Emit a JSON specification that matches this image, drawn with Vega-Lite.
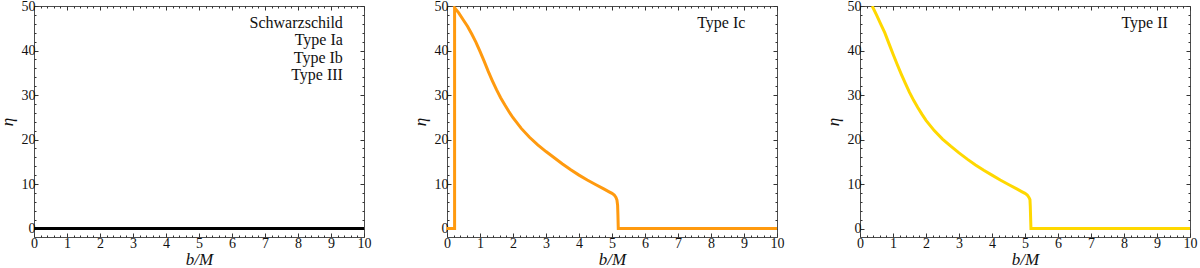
{
  "$schema": "https://vega.github.io/schema/vega-lite/v6.json",
  "padding": {"left": -3, "top": -2, "right": 0, "bottom": 0},
  "background": "white",
  "datasets": {
    "schw": [{"b": 0, "eta": 0, "i": 0}, {"b": 10, "eta": 0, "i": 1}],
    "ic": [
      {"b": 0, "eta": 0, "i": 0}, {"b": 0.23, "eta": 0, "i": 1}, {"b": 0.23, "eta": 49.6, "i": 2},
      {"b": 0.35, "eta": 48.5, "i": 3}, {"b": 0.5, "eta": 46.8, "i": 4}, {"b": 0.625, "eta": 45.4, "i": 5},
      {"b": 0.75, "eta": 43.7, "i": 6}, {"b": 0.875, "eta": 41.9, "i": 7}, {"b": 1.0, "eta": 39.8, "i": 8},
      {"b": 1.125, "eta": 37.6, "i": 9}, {"b": 1.25, "eta": 35.3, "i": 10}, {"b": 1.375, "eta": 33.2, "i": 11},
      {"b": 1.5, "eta": 31.2, "i": 12}, {"b": 1.625, "eta": 29.4, "i": 13}, {"b": 1.75, "eta": 27.8, "i": 14},
      {"b": 1.875, "eta": 26.3, "i": 15}, {"b": 2.0, "eta": 24.9, "i": 16}, {"b": 2.25, "eta": 22.5, "i": 17},
      {"b": 2.5, "eta": 20.5, "i": 18}, {"b": 2.75, "eta": 18.8, "i": 19}, {"b": 3.0, "eta": 17.3, "i": 20},
      {"b": 3.25, "eta": 15.9, "i": 21}, {"b": 3.5, "eta": 14.5, "i": 22}, {"b": 3.75, "eta": 13.2, "i": 23},
      {"b": 4.0, "eta": 12.0, "i": 24}, {"b": 4.25, "eta": 10.9, "i": 25}, {"b": 4.5, "eta": 9.9, "i": 26},
      {"b": 4.75, "eta": 8.9, "i": 27}, {"b": 4.9, "eta": 8.3, "i": 28}, {"b": 5.0, "eta": 7.9, "i": 29},
      {"b": 5.07, "eta": 7.5, "i": 30}, {"b": 5.12, "eta": 7.0, "i": 31}, {"b": 5.15, "eta": 6.4, "i": 32},
      {"b": 5.17, "eta": 5.2, "i": 33}, {"b": 5.18, "eta": 3.0, "i": 34}, {"b": 5.19, "eta": 0, "i": 35},
      {"b": 10, "eta": 0, "i": 36}
    ],
    "ii": [
      {"b": 0.37, "eta": 50, "i": 0}, {"b": 0.5, "eta": 48.0, "i": 1}, {"b": 0.625, "eta": 46.0, "i": 2},
      {"b": 0.75, "eta": 44.0, "i": 3}, {"b": 0.875, "eta": 41.6, "i": 4}, {"b": 1.0, "eta": 39.2, "i": 5},
      {"b": 1.125, "eta": 36.9, "i": 6}, {"b": 1.25, "eta": 34.7, "i": 7}, {"b": 1.375, "eta": 32.6, "i": 8},
      {"b": 1.5, "eta": 30.6, "i": 9}, {"b": 1.625, "eta": 28.8, "i": 10}, {"b": 1.75, "eta": 27.2, "i": 11},
      {"b": 1.875, "eta": 25.7, "i": 12}, {"b": 2.0, "eta": 24.3, "i": 13}, {"b": 2.25, "eta": 22.0, "i": 14},
      {"b": 2.5, "eta": 20.1, "i": 15}, {"b": 2.75, "eta": 18.5, "i": 16}, {"b": 3.0, "eta": 17.0, "i": 17},
      {"b": 3.25, "eta": 15.6, "i": 18}, {"b": 3.5, "eta": 14.3, "i": 19}, {"b": 3.75, "eta": 13.1, "i": 20},
      {"b": 4.0, "eta": 12.0, "i": 21}, {"b": 4.25, "eta": 10.9, "i": 22}, {"b": 4.5, "eta": 9.9, "i": 23},
      {"b": 4.75, "eta": 8.9, "i": 24}, {"b": 4.9, "eta": 8.3, "i": 25}, {"b": 5.0, "eta": 7.9, "i": 26},
      {"b": 5.07, "eta": 7.5, "i": 27}, {"b": 5.12, "eta": 7.0, "i": 28}, {"b": 5.15, "eta": 6.5, "i": 29},
      {"b": 5.16, "eta": 5.0, "i": 30}, {"b": 5.18, "eta": 0, "i": 31}, {"b": 10, "eta": 0, "i": 32}
    ]
  },
  "spacing": 83,
  "bounds": "flush",
  "hconcat": [
    {
      "width": 330, "height": 231,
      "resolve": {"axis": {"x": "independent", "y": "independent"}},
      "layer": [
        {
          "data": {"name": "schw"},
          "mark": {"type": "line", "color": "black", "strokeWidth": 3, "clip": true},
          "encoding": {
            "x": {"field": "b", "type": "quantitative", "scale": {"domain": [0, 10], "nice": false, "zero": false},
              "axis": {"orient": "bottom", "title": "b/M", "values": [0,0.2,0.4,0.6,0.8,1,1.2,1.4,1.6,1.8,2,2.2,2.4,2.6,2.8,3,3.2,3.4,3.6,3.8,4,4.2,4.4,4.6,4.8,5,5.2,5.4,5.6,5.8,6,6.2,6.4,6.6,6.8,7,7.2,7.4,7.6,7.8,8,8.2,8.4,8.6,8.8,9,9.2,9.4,9.6,9.8,10],
                "labelExpr": "datum.value % 1 === 0 ? format(datum.value, 'd') : ''",
                "tickSize": {"condition": {"test": "datum.value % 1 === 0", "value": -4}, "value": -2},
                "labelPadding": 3, "titlePadding": -1}},
            "y": {"field": "eta", "type": "quantitative", "scale": {"domain": [-1.9, 50], "nice": false, "zero": false},
              "axis": {"orient": "left", "title": "η", "values": [0,2,4,6,8,10,12,14,16,18,20,22,24,26,28,30,32,34,36,38,40,42,44,46,48,50],
                "labelExpr": "datum.value % 10 === 0 ? format(datum.value, 'd') : ''",
                "tickSize": {"condition": {"test": "datum.value % 10 === 0", "value": -4}, "value": -2},
                "labelPadding": 3, "titlePadding": 5}},
            "order": {"field": "i", "type": "quantitative"}
          }
        },
        {
          "data": {"name": "schw"},
          "mark": {"type": "point", "opacity": 0},
          "encoding": {
            "x": {"field": "b", "type": "quantitative",
              "axis": {"orient": "top", "title": null, "labels": false, "values": [0,0.2,0.4,0.6,0.8,1,1.2,1.4,1.6,1.8,2,2.2,2.4,2.6,2.8,3,3.2,3.4,3.6,3.8,4,4.2,4.4,4.6,4.8,5,5.2,5.4,5.6,5.8,6,6.2,6.4,6.6,6.8,7,7.2,7.4,7.6,7.8,8,8.2,8.4,8.6,8.8,9,9.2,9.4,9.6,9.8,10],
                "tickSize": {"condition": {"test": "datum.value % 1 === 0", "value": -4}, "value": -2}}},
            "y": {"field": "eta", "type": "quantitative",
              "axis": {"orient": "right", "title": null, "labels": false, "values": [0,2,4,6,8,10,12,14,16,18,20,22,24,26,28,30,32,34,36,38,40,42,44,46,48,50],
                "tickSize": {"condition": {"test": "datum.value % 10 === 0", "value": -4}, "value": -2}}}
          }
        },
        {
          "data": {"values": [{}]},
          "mark": {"type": "text", "align": "right", "baseline": "middle", "lineHeight": 17.5, "font": "Liberation Serif", "fontSize": 16, "color": "#111"},
          "encoding": {
            "x": {"datum": 9.36, "type": "quantitative", "axis": null},
            "y": {"datum": 46.25, "type": "quantitative", "axis": null},
            "text": {"value": ["Schwarzschild", "Type Ia", "Type Ib", "Type III"]}
          }
        }
      ]
    },
    {
      "width": 330, "height": 231,
      "resolve": {"axis": {"x": "independent", "y": "independent"}},
      "layer": [
        {
          "data": {"name": "ic"},
          "mark": {"type": "line", "color": "#FF9A0F", "strokeWidth": 3, "clip": true},
          "encoding": {
            "x": {"field": "b", "type": "quantitative", "scale": {"domain": [0, 10], "nice": false, "zero": false},
              "axis": {"orient": "bottom", "title": "b/M", "values": [0,0.2,0.4,0.6,0.8,1,1.2,1.4,1.6,1.8,2,2.2,2.4,2.6,2.8,3,3.2,3.4,3.6,3.8,4,4.2,4.4,4.6,4.8,5,5.2,5.4,5.6,5.8,6,6.2,6.4,6.6,6.8,7,7.2,7.4,7.6,7.8,8,8.2,8.4,8.6,8.8,9,9.2,9.4,9.6,9.8,10],
                "labelExpr": "datum.value % 1 === 0 ? format(datum.value, 'd') : ''",
                "tickSize": {"condition": {"test": "datum.value % 1 === 0", "value": -4}, "value": -2},
                "labelPadding": 3, "titlePadding": -1}},
            "y": {"field": "eta", "type": "quantitative", "scale": {"domain": [-1.9, 50], "nice": false, "zero": false},
              "axis": {"orient": "left", "title": "η", "values": [0,2,4,6,8,10,12,14,16,18,20,22,24,26,28,30,32,34,36,38,40,42,44,46,48,50],
                "labelExpr": "datum.value % 10 === 0 ? format(datum.value, 'd') : ''",
                "tickSize": {"condition": {"test": "datum.value % 10 === 0", "value": -4}, "value": -2},
                "labelPadding": 3, "titlePadding": 5}},
            "order": {"field": "i", "type": "quantitative"}
          }
        },
        {
          "data": {"name": "ic"},
          "mark": {"type": "point", "opacity": 0},
          "encoding": {
            "x": {"field": "b", "type": "quantitative",
              "axis": {"orient": "top", "title": null, "labels": false, "values": [0,0.2,0.4,0.6,0.8,1,1.2,1.4,1.6,1.8,2,2.2,2.4,2.6,2.8,3,3.2,3.4,3.6,3.8,4,4.2,4.4,4.6,4.8,5,5.2,5.4,5.6,5.8,6,6.2,6.4,6.6,6.8,7,7.2,7.4,7.6,7.8,8,8.2,8.4,8.6,8.8,9,9.2,9.4,9.6,9.8,10],
                "tickSize": {"condition": {"test": "datum.value % 1 === 0", "value": -4}, "value": -2}}},
            "y": {"field": "eta", "type": "quantitative",
              "axis": {"orient": "right", "title": null, "labels": false, "values": [0,2,4,6,8,10,12,14,16,18,20,22,24,26,28,30,32,34,36,38,40,42,44,46,48,50],
                "tickSize": {"condition": {"test": "datum.value % 10 === 0", "value": -4}, "value": -2}}}
          }
        },
        {
          "data": {"values": [{}]},
          "mark": {"type": "text", "align": "right", "baseline": "middle", "font": "Liberation Serif", "fontSize": 16, "color": "#111"},
          "encoding": {
            "x": {"datum": 9.04, "type": "quantitative", "axis": null},
            "y": {"datum": 46.25, "type": "quantitative", "axis": null},
            "text": {"value": "Type Ic"}
          }
        }
      ]
    },
    {
      "width": 330, "height": 231,
      "resolve": {"axis": {"x": "independent", "y": "independent"}},
      "layer": [
        {
          "data": {"name": "ii"},
          "mark": {"type": "line", "color": "#FFD800", "strokeWidth": 3, "clip": true},
          "encoding": {
            "x": {"field": "b", "type": "quantitative", "scale": {"domain": [0, 10], "nice": false, "zero": false},
              "axis": {"orient": "bottom", "title": "b/M", "values": [0,0.2,0.4,0.6,0.8,1,1.2,1.4,1.6,1.8,2,2.2,2.4,2.6,2.8,3,3.2,3.4,3.6,3.8,4,4.2,4.4,4.6,4.8,5,5.2,5.4,5.6,5.8,6,6.2,6.4,6.6,6.8,7,7.2,7.4,7.6,7.8,8,8.2,8.4,8.6,8.8,9,9.2,9.4,9.6,9.8,10],
                "labelExpr": "datum.value % 1 === 0 ? format(datum.value, 'd') : ''",
                "tickSize": {"condition": {"test": "datum.value % 1 === 0", "value": -4}, "value": -2},
                "labelPadding": 3, "titlePadding": -1}},
            "y": {"field": "eta", "type": "quantitative", "scale": {"domain": [-1.9, 50], "nice": false, "zero": false},
              "axis": {"orient": "left", "title": "η", "values": [0,2,4,6,8,10,12,14,16,18,20,22,24,26,28,30,32,34,36,38,40,42,44,46,48,50],
                "labelExpr": "datum.value % 10 === 0 ? format(datum.value, 'd') : ''",
                "tickSize": {"condition": {"test": "datum.value % 10 === 0", "value": -4}, "value": -2},
                "labelPadding": 3, "titlePadding": 5}},
            "order": {"field": "i", "type": "quantitative"}
          }
        },
        {
          "data": {"name": "ii"},
          "mark": {"type": "point", "opacity": 0},
          "encoding": {
            "x": {"field": "b", "type": "quantitative",
              "axis": {"orient": "top", "title": null, "labels": false, "values": [0,0.2,0.4,0.6,0.8,1,1.2,1.4,1.6,1.8,2,2.2,2.4,2.6,2.8,3,3.2,3.4,3.6,3.8,4,4.2,4.4,4.6,4.8,5,5.2,5.4,5.6,5.8,6,6.2,6.4,6.6,6.8,7,7.2,7.4,7.6,7.8,8,8.2,8.4,8.6,8.8,9,9.2,9.4,9.6,9.8,10],
                "tickSize": {"condition": {"test": "datum.value % 1 === 0", "value": -4}, "value": -2}}},
            "y": {"field": "eta", "type": "quantitative",
              "axis": {"orient": "right", "title": null, "labels": false, "values": [0,2,4,6,8,10,12,14,16,18,20,22,24,26,28,30,32,34,36,38,40,42,44,46,48,50],
                "tickSize": {"condition": {"test": "datum.value % 10 === 0", "value": -4}, "value": -2}}}
          }
        },
        {
          "data": {"values": [{}]},
          "mark": {"type": "text", "align": "right", "baseline": "middle", "font": "Liberation Serif", "fontSize": 16, "color": "#111"},
          "encoding": {
            "x": {"datum": 9.33, "type": "quantitative", "axis": null},
            "y": {"datum": 46.2, "type": "quantitative", "axis": null},
            "text": {"value": "Type II"}
          }
        }
      ]
    }
  ],
  "config": {
    "font": "Liberation Serif",
    "view": {"stroke": "#4d4d4d", "strokeWidth": 1},
    "axis": {
      "labelFont": "Liberation Serif", "labelFontSize": 14, "labelColor": "#111",
      "titleFont": "Liberation Serif", "titleFontSize": 17, "titleFontWeight": "normal", "titleFontStyle": "italic", "titleColor": "#111",
      "tickColor": "#333", "tickWidth": 1, "domain": false, "grid": false,
      "labelOverlap": false, "labelFlush": false, "labelBound": false
    }
  }
}
